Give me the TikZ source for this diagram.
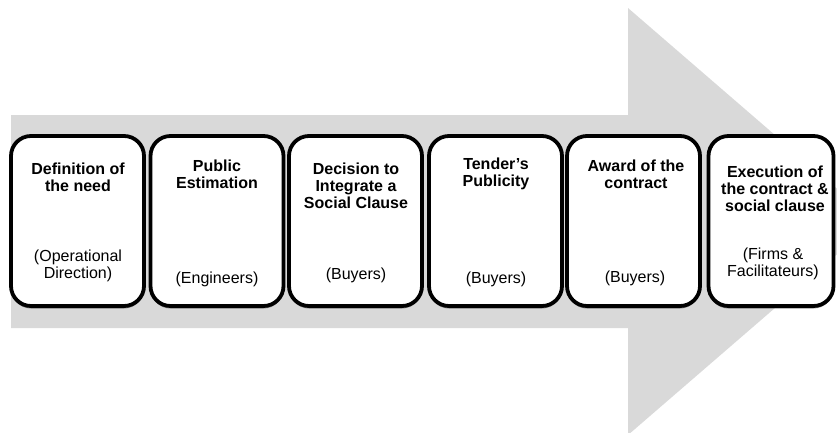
\documentclass[tikz,border=0pt]{standalone}
\usepackage{fontspec}
\setmainfont{Liberation Sans}
\usetikzlibrary{shadows}
\definecolor{arrowgray}{HTML}{D9D9D9}
\begin{document}
\begin{tikzpicture}[x=1pt,y=-1pt,
  stage/.style={draw=black, line width=3.8pt, fill=white, rounded corners=20pt,
    minimum width=133pt, minimum height=170pt, inner sep=0pt,
    drop shadow={shadow xshift=0pt, shadow yshift=-2.5pt, opacity=0.4, fill=black}},
  title/.style={font=\fontsize{16}{16.8}\selectfont\bfseries, align=center, inner sep=0pt},
  role/.style={font=\fontsize{16}{16.8}\selectfont, align=center, inner sep=0pt}]
\useasboundingbox (0,0) rectangle (837,432);

% big process arrow behind the stages
\begin{scope}
  \clip (0,0) rectangle (837,432);
  \fill[arrowgray] (11,115) -- (628,115) -- (628,8) -- (875,221.5)
    -- (628,435) -- (628,328) -- (11,328) -- cycle;
\end{scope}

% stages
\node[stage] (s1) at (77.5,221) {};
\node[stage] (s2) at (217,221) {};
\node[stage] (s3) at (355.5,221) {};
\node[stage] (s4) at (495.5,221) {};
\node[stage] (s5) at (633.5,221) {};
\node[stage, minimum width=125pt] (s6) at (771,221) {};

% stage titles
\node[title] (t1) at (78,177) {Definition of\\the need};
\node[title] (t2) at (217,174) {Public\\Estimation};
\node[title] (t3) at (356,186) {Decision to\\Integrate a\\Social Clause};
\node[title] (t4) at (496,173.5) {Tender's\\Publicity};
\node[title] (t5) at (636,174) {Award of the\\contract};
\node[title] (t6) at (775,189) {Execution of\\the contract \&\\social clause};

% responsible actors
\node[role] (r1) at (78,266) {(Operational\\Direction)};
\node[role] (r2) at (217,279) {(Engineers)};
\node[role] (r3) at (356,275) {(Buyers)};
\node[role] (r4) at (496,279) {(Buyers)};
\node[role] (r5) at (635,278) {(Buyers)};
\node[role] (r6) at (773,264) {(Firms \&\\Facilitateurs)};
\end{tikzpicture}
\end{document}
